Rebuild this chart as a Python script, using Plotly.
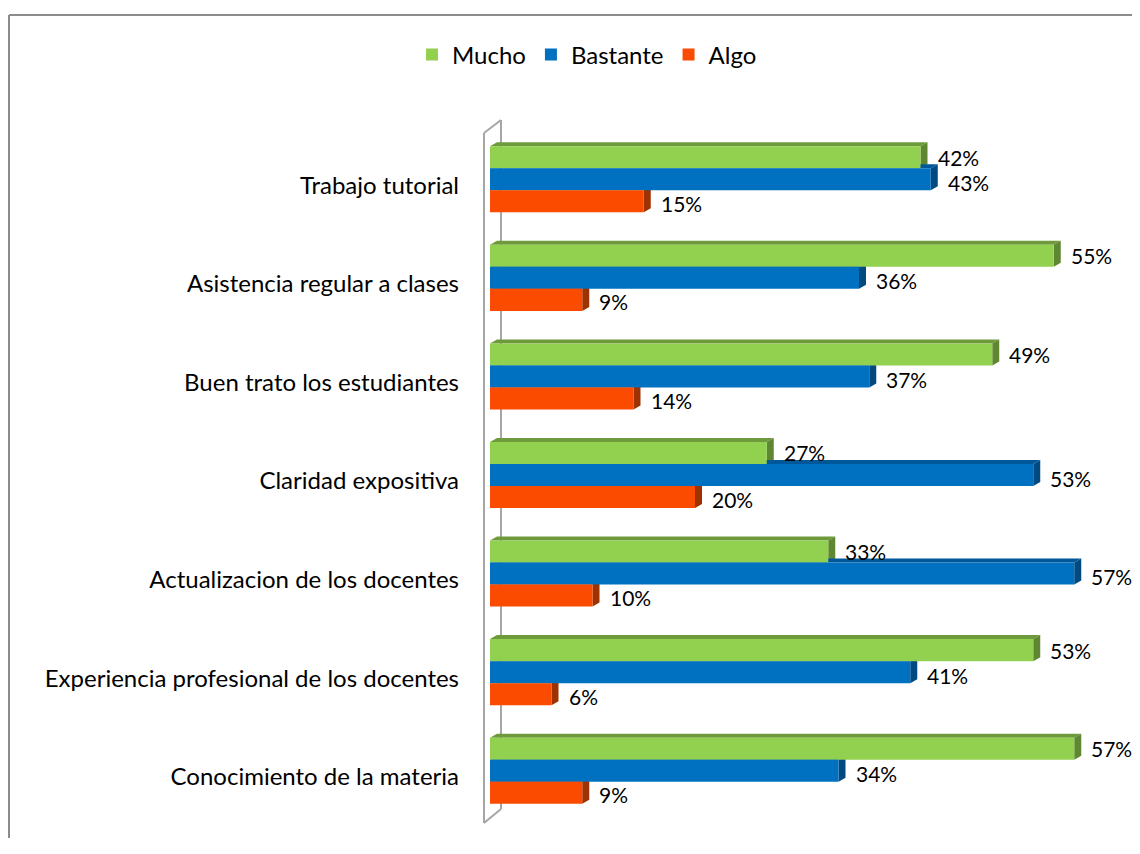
import plotly.graph_objects as go

categories = [
    "Trabajo tutorial",
    "Asistencia regular a clases",
    "Buen trato los estudiantes",
    "Claridad expositiva",
    "Actualizacion de los docentes",
    "Experiencia profesional de los docentes",
    "Conocimiento de la materia",
]
series_names = ["Mucho", "Bastante", "Algo"]
mucho = [42, 55, 49, 27, 33, 53, 57]
bastante = [43, 36, 37, 53, 57, 41, 34]
algo = [15, 9, 14, 20, 10, 6, 9]
series_values = [mucho, bastante, algo]

front_colors = ["#92D050", "#0070C0", "#FA4B00"]
top_colors = ["#6E9A3C", "#00589A", "#BE3C00"]
side_colors = ["#5F8731", "#004A80", "#9E3200"]

# page body has an 8px margin; work in figure coordinates
OX, OY = 8, 8
W, H = 1132, 830
L, T = 490 - OX, 130 - OY
XMAX = 60
px_per_x = 10.25
plot_w = XMAX * px_per_x
R = W - L - plot_w
B = H - (820 - OY)
plot_h = H - T - B
px_per_cat = plot_h / len(categories)

bargap = 0.33
n = len(series_names)
bw = (1 - bargap) / n
FONT = "Lato"
FS = 24
LABEL_FS = 21
label_yshift = [0, -3, -2]

fig = go.Figure()
ypos = list(range(len(categories)))
for s, (name, vals) in enumerate(zip(series_names, series_values)):
    fig.add_trace(go.Bar(
        name=name, x=vals, y=ypos, orientation="h",
        marker=dict(color=front_colors[s], line=dict(width=0)),
        hoverinfo="x+name",
    ))

# 3D depth faces
dx = 7 / px_per_x
dy = 4 / px_per_cat
shapes = []
for s, vals in enumerate(series_values):
    for i, v in enumerate(vals):
        yc = i + (s - 1) * bw
        top = yc - bw / 2
        bot = yc + bw / 2
        shapes.append(dict(
            type="path", xref="x", yref="y", layer="below",
            path=f"M0,{top} L{dx},{top - dy} L{v + dx},{top - dy} L{v},{top} Z",
            fillcolor=top_colors[s], line=dict(width=0),
        ))
        shapes.append(dict(
            type="path", xref="x", yref="y", layer="below",
            path=f"M{v},{top} L{v + dx},{top - dy} L{v + dx},{bot - dy} L{v},{bot} Z",
            fillcolor=side_colors[s], line=dict(width=0),
        ))

def pline(x0, y0, x1, y1, line, layer="below"):
    # coordinates given in reference-screen pixels
    return dict(type="line", xref="paper", yref="paper",
                xsizemode="pixel", ysizemode="pixel", xanchor=0, yanchor=1,
                x0=x0 - OX - L, x1=x1 - OX - L,
                y0=T - (y0 - OY), y1=T - (y1 - OY), line=line, layer=layer)

wall = dict(color="#A6A6A6", width=2)
shapes += [
    pline(484, 133, 484, 823, wall),
    pline(501, 120, 501, 809, wall),
    pline(484, 133, 501, 120, wall),
    pline(484, 823, 501, 809, wall),
]
border = dict(color="#8C8C8C", width=2)
shapes += [
    pline(9, 15, 1150, 15, border, "above"),
    pline(9, 15, 9, 870, border, "above"),
]

annotations = []
for s, vals in enumerate(series_values):
    for i, v in enumerate(vals):
        annotations.append(dict(
            x=v, y=i + (s - 1) * bw, xref="x", yref="y",
            text=f"{v}%", showarrow=False, xanchor="left", yanchor="middle",
            xshift=15, yshift=label_yshift[s],
            font=dict(family=FONT, size=LABEL_FS, color="#000000"),
        ))

fig.update_layout(
    width=W, height=H,
    margin=dict(l=L, r=R, t=T, b=B),
    paper_bgcolor="white", plot_bgcolor="white",
    barmode="group", bargap=bargap, bargroupgap=0,
    font=dict(family=FONT, size=FS, color="#000000"),
    shapes=shapes, annotations=annotations,
    legend=dict(
        orientation="h", xref="container", yref="container",
        x=(587 - OX) / W, y=1 - (55 - OY) / H, xanchor="center", yanchor="middle",
        font=dict(family=FONT, size=FS), traceorder="normal",
    ),
    showlegend=True,
)
fig.update_xaxes(range=[0, XMAX], visible=False)
fig.update_yaxes(
    range=[len(categories) - 0.5, -0.5], tickmode="array",
    tickvals=ypos, ticktext=categories, showgrid=False, zeroline=False,
    showline=False, ticks="", ticklabelstandoff=30, ticklabelshift=-6,
    tickfont=dict(family=FONT, size=FS),
)

fig.write_html("out.html")
